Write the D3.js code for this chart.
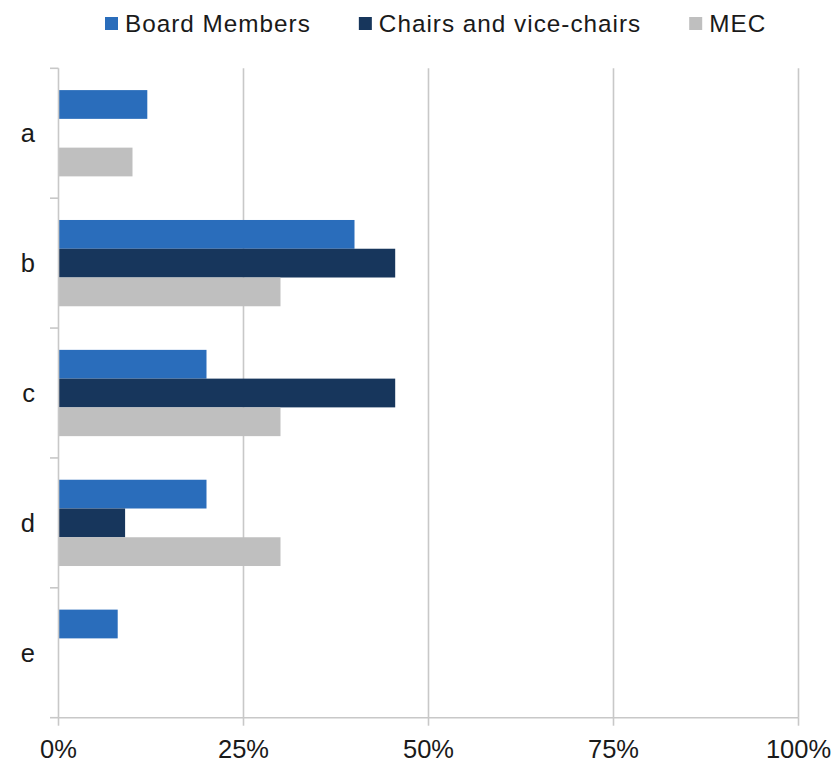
<!DOCTYPE html>
<html>
<head>
<meta charset="utf-8">
<script src="https://cdn.jsdelivr.net/npm/d3@7"></script>
<style>
  html, body { margin: 0; padding: 0; background: #fff; }
  svg { display: block; font-family: "Liberation Sans", Arial, sans-serif; }
</style>
</head>
<body>
<svg id="chart" width="836" height="761"></svg>
<script>
const categories = ["a", "b", "c", "d", "e"];
const seriesNames = ["Board Members", "Chairs and vice-chairs", "MEC"];
const boardMembers = [12, 40, 20, 20, 8];
const chairs = [0, 45.5, 45.5, 9, 0];
const mec = [10, 30, 30, 30, 0];
const xTicks = [0, 25, 50, 75, 100];
const colors = ["#2a6dbb", "#17365c", "#bfbfbf"];

(function () {
const seriesValues = [boardMembers, chairs, mec];
const svg = d3.select("#chart");
const pLeft = 58.5, pRight = 798.5, pTop = 68.3, pBottom = 717.7;
const gridColor = "#c8c8c8";

const x = d3.scaleLinear().domain([0, 100]).range([pLeft, pRight]);
const y = d3.scaleBand().domain(categories).range([pTop, pBottom]);
const inner = d3.scaleBand().domain(seriesNames)
  .range([21.8, y.bandwidth() - 21.8]);

// gridlines
svg.append("g").selectAll("line")
  .data(xTicks.filter(d => d > 0))
  .join("line")
  .attr("x1", d => x(d)).attr("x2", d => x(d))
  .attr("y1", pTop).attr("y2", pBottom)
  .attr("stroke", gridColor).attr("stroke-width", 1.6);

// bars
const rows = [];
categories.forEach((c, i) => {
  seriesNames.forEach((s, j) => {
    rows.push({ cat: c, series: s, value: seriesValues[j][i], color: colors[j] });
  });
});
svg.append("g").selectAll("rect")
  .data(rows.filter(d => d.value > 0))
  .join("rect")
  .attr("x", x(0))
  .attr("y", d => y(d.cat) + inner(d.series))
  .attr("width", d => x(d.value) - x(0))
  .attr("height", inner.bandwidth())
  .attr("fill", d => d.color);

// y axis line and ticks
const axisG = svg.append("g");
axisG.append("line")
  .attr("x1", pLeft).attr("x2", pLeft).attr("y1", pTop).attr("y2", pBottom)
  .attr("stroke", gridColor).attr("stroke-width", 1.6);
const bounds = categories.map(c => y(c)).concat([pBottom]);
axisG.selectAll("line.yt").data(bounds).join("line").attr("class", "yt")
  .attr("x1", pLeft - 8.5).attr("x2", pLeft)
  .attr("y1", d => d).attr("y2", d => d)
  .attr("stroke", gridColor).attr("stroke-width", 1.6);
// x axis line and ticks
axisG.append("line")
  .attr("x1", pLeft).attr("x2", pRight).attr("y1", pBottom).attr("y2", pBottom)
  .attr("stroke", gridColor).attr("stroke-width", 1.6);
axisG.selectAll("line.xt").data(xTicks).join("line").attr("class", "xt")
  .attr("x1", d => x(d)).attr("x2", d => x(d))
  .attr("y1", pBottom).attr("y2", pBottom + 8)
  .attr("stroke", gridColor).attr("stroke-width", 1.6);

// category labels
svg.append("g").selectAll("text")
  .data(categories).join("text")
  .attr("x", 35)
  .attr("y", d => y(d) + y.bandwidth() / 2)
  .attr("dy", "0.36em")
  .attr("text-anchor", "end")
  .attr("font-size", 25.5)
  .attr("fill", "#1a1a1a")
  .text(d => d);

// x tick labels
svg.append("g").selectAll("text")
  .data(xTicks).join("text")
  .attr("x", d => x(d))
  .attr("y", 757.5)
  .attr("text-anchor", "middle")
  .attr("font-size", 25.5)
  .attr("fill", "#1a1a1a")
  .text(d => d + "%");

// legend
const legend = svg.append("g");
let lx = 105;
seriesNames.forEach((s, i) => {
  legend.append("rect")
    .attr("x", lx).attr("y", 17).attr("width", 13).attr("height", 13)
    .attr("fill", colors[i]);
  const t = legend.append("text")
    .attr("x", lx + 20).attr("y", 31.7)
    .attr("font-size", 24.3)
    .attr("letter-spacing", 1)
    .attr("fill", "#1a1a1a")
    .text(s);
  lx += 20 + t.node().getComputedTextLength() + 48;
});
})();
</script>
</body>
</html>
